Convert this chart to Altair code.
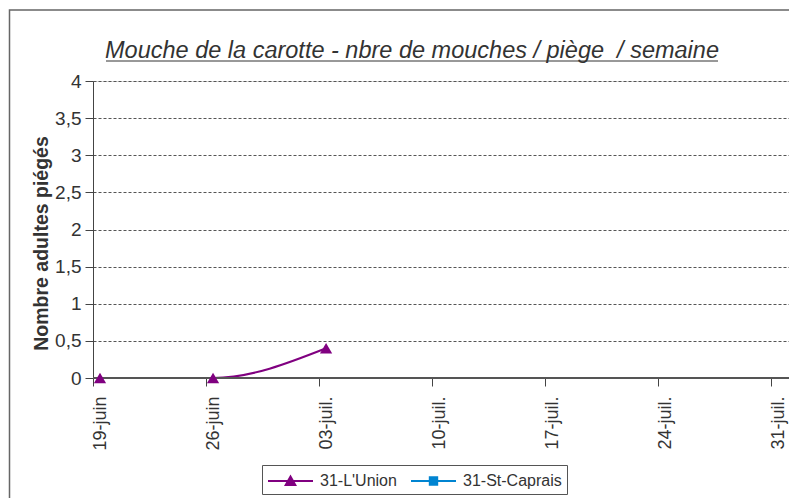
import altair as alt
import pandas as pd

# ---- data ----
tick_days = [0, 7, 14, 21, 28, 35, 42]
tick_labels = ["19-juin", "26-juin", "03-juil.", "10-juil.", "17-juil.", "24-juil.", "31-juil."]
series = ["31-L'Union", "31-St-Caprais"]
union_days = [0, 7, 14]
union_vals = [0, 0, 0.4]
caprais_days = [0, 7, 14]
caprais_vals = [None, None, None]
colors = ["#800080", "#0084d1"]
marker_shapes = ["triangle-up", "square"]
legend_paths = [
    "M-1,0H3.5M0.77,0.4L1.25,-0.45L1.73,0.4Z",
    "M-1,0H3.5M0.88,-0.37H1.62V0.37H0.88Z",
]
y_ticks = [0, 0.5, 1, 1.5, 2, 2.5, 3, 3.5, 4]
title_text = "Mouche de la carotte - nbre de mouches / piège\u00a0 / semaine"

rows = []
for d, v in zip(union_days, union_vals):
    rows.append({"series": series[0], "day": d, "value": v})
for d, v in zip(caprais_days, caprais_vals):
    rows.append({"series": series[1], "day": d, "value": v})
df = pd.DataFrame(rows)

FONT = "Liberation Sans"
label_arr = "[" + ",".join("'" + t + "'" for t in tick_labels) + "]"

x_scale = alt.Scale(domain=[0, 43.1], nice=False, zero=False)
y_scale = alt.Scale(domain=[0, 4], nice=False)
x_axis = alt.Axis(
    values=tick_days, title=None, grid=False,
    labelExpr=label_arr + "[round(datum.value/7)]",
    labelAngle=-90, labelAlign="right", labelBaseline="middle",
    labelOffset=7, labelPadding=10, labelFontSize=18, labelFont=FONT,
    labelColor="#333", tickSize=8, tickColor="#444", domainColor="#444",
)
y_axis = alt.Axis(
    values=y_ticks, title="Nombre adultes piégés",
    titleFont=FONT, titleFontSize=19.5, titleFontWeight="bold", titleColor="#333",
    titlePadding=3, titleY=162, labelOverlap=False,
    labelExpr="replace(format(datum.value, ''), '.', ',')",
    labelFontSize=19, labelFont=FONT, labelColor="#333", labelPadding=4,
    tickSize=8, tickColor="#444", domainColor="#444",
    grid=True, gridDash=[3, 2], gridColor="#555", gridWidth=1,
)
X = alt.X("day:Q", scale=x_scale, axis=x_axis)
Y = alt.Y("value:Q", scale=y_scale, axis=y_axis)

layers = []

# outer frame (decoration)
frame = alt.Chart(alt.Data(values=[{}])).mark_rect(
    fill=None, stroke="#666", strokeWidth=1.5
).encode(
    x=alt.value(-83.5), x2=alt.value(704), y=alt.value(-71), y2=alt.value(440)
)
layers.append(frame)

# title underline (decoration)
underline = alt.Chart(alt.Data(values=[{}])).mark_rule(color="#333", strokeWidth=1).encode(
    x=alt.value(13), x2=alt.value(625), y=alt.value(-20)
)
layers.append(underline)

for s, c in zip(series, colors):
    layers.append(
        alt.Chart(df).transform_filter(alt.datum.series == s)
        .mark_line(color=c, strokeWidth=2, interpolate="monotone")
        .encode(x=X, y=Y, xOffset=alt.value(7))
    )

zero_rule = alt.Chart(alt.Data(values=[{}])).mark_rule(color="#555", strokeWidth=2).encode(
    y=alt.Y(datum=0, scale=y_scale, axis=y_axis)
)
layers.append(zero_rule)

for s, c, sh in zip(series, colors, marker_shapes):
    layers.append(
        alt.Chart(df).transform_filter(alt.datum.series == s)
        .mark_point(color=c, filled=True, shape=sh, size=150, opacity=1)
        .encode(x=X, y=Y, xOffset=alt.value(7))
    )

leg = alt.Legend(
    title=None, orient="none", legendX=169, legendY=384, direction="horizontal",
    strokeColor="#555", padding=5, symbolSize=400, symbolStrokeWidth=2,
    labelOffset=31, labelFont=FONT, labelFontSize=16, labelColor="#333",
    columnPadding=10, symbolOpacity=1,
)
legend_layer = alt.Chart(pd.DataFrame({"series": series})).transform_filter("false").mark_point(
    filled=True
).encode(
    x=alt.value(0), y=alt.value(0),
    color=alt.Color("series:N", scale=alt.Scale(domain=series, range=colors), legend=leg),
    stroke=alt.Stroke("series:N", scale=alt.Scale(domain=series, range=colors), legend=leg),
    shape=alt.Shape("series:N", scale=alt.Scale(domain=series, range=legend_paths), legend=leg),
)
layers.append(legend_layer)

chart = alt.layer(*layers).properties(
    width=696, height=297,
    title=alt.TitleParams(
        title_text,
        font=FONT, fontSize=23.5, fontStyle="italic", fontWeight="normal",
        color="#333", anchor="middle", dx=-29, offset=0, dy=53,
    ),
    autosize=alt.AutoSizeParams(type="none"),
    padding={"left": 85, "top": 73, "right": 0, "bottom": 120},
).configure_view(stroke=None).configure(background="white")

chart.save("out.html", embed_options={"renderer": "svg", "actions": False})
